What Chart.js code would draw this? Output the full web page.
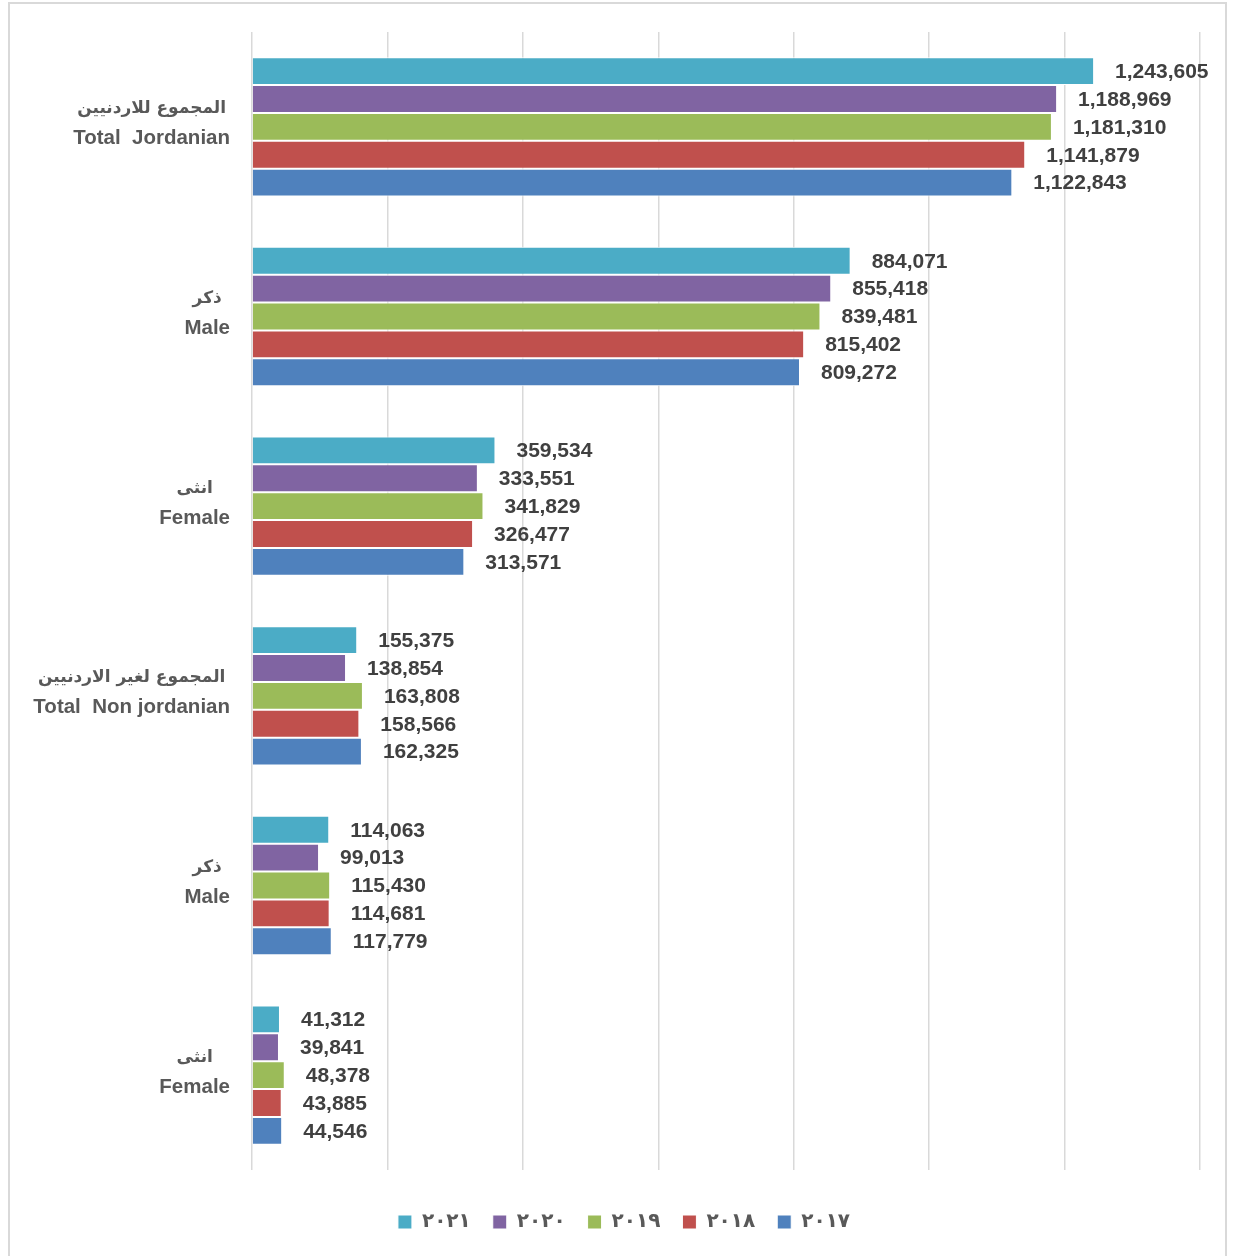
<!DOCTYPE html>
<html>
<head>
<meta charset="utf-8">
<script src="https://cdn.jsdelivr.net/npm/chart.js@4.4.1/dist/chart.umd.min.js"></script>
<style>
  html, body { margin: 0; padding: 0; background: #fff; }
  #frame { position: absolute; left: 8px; top: 2px; width: 1219px; height: 1260px; border: 2px solid #d9d9d9; box-sizing: border-box; }
  #chart { position: absolute; left: 0; top: 0; }
</style>
</head>
<body>
<div id="frame"></div>
<canvas id="chart" width="1234" height="1256"></canvas>
<script>
// categories: Arabic line over English line
const categories = [
  ["المجموع للاردنيين", "Total  Jordanian"],
  ["ذكر", "Male"],
  ["انثى", "Female"],
  ["المجموع لغير الاردنيين", "Total  Non jordanian"],
  ["ذكر", "Male"],
  ["انثى", "Female"]
];
const years = ["٢٠٢١", "٢٠٢٠", "٢٠١٩", "٢٠١٨", "٢٠١٧"];
const y2021 = [1243605, 884071, 359534, 155375, 114063, 41312];
const y2020 = [1188969, 855418, 333551, 138854, 99013, 39841];
const y2019 = [1181310, 839481, 341829, 163808, 115430, 48378];
const y2018 = [1141879, 815402, 326477, 158566, 114681, 43885];
const y2017 = [1122843, 809272, 313571, 162325, 117779, 44546];
const colors = ["#4BACC6", "#8064A2", "#9BBB59", "#C0504D", "#4F81BD"];

const series = [y2021, y2020, y2019, y2018, y2017];

const arFont = "bold 17px 'DejaVu Sans', sans-serif";
const enFont = "bold 20.5px 'Liberation Sans', Arial, sans-serif";

//draws the number at the end of every bar
const valueLabels = {
  id: "valueLabels",
  afterDatasetsDraw(chart) {
    const ctx = chart.ctx;
    ctx.save();
    ctx.font = "bold 21px 'Liberation Sans', Arial, sans-serif";
    ctx.fillStyle = "#404040";
    ctx.textAlign = "left";
    ctx.textBaseline = "middle";
    chart.data.datasets.forEach((ds, i) => {
      chart.getDatasetMeta(i).data.forEach((bar, j) => {
        ctx.fillText(ds.data[j].toLocaleString("en-US"), bar.x + 21, bar.y + 1);
      });
    });
    ctx.restore();
  }
};

//category labels: two lines centred on each other, block right aligned to the axis
const categoryLabels = {
  id: "categoryLabels",
  afterDraw(chart) {
    const ctx = chart.ctx;
    const yScale = chart.scales.y;
    const right = yScale.right - 22;
    ctx.save();
    ctx.fillStyle = "#595959";
    ctx.textAlign = "center";
    ctx.textBaseline = "middle";
    chart.data.labels.forEach((lines, i) => {
      const yc = yScale.getPixelForTick(i);
      ctx.font = arFont;
      const wA = ctx.measureText(lines[0]).width;
      ctx.font = enFont;
      const wE = ctx.measureText(lines[1]).width;
      const cx = right - Math.max(wA, wE) / 2;
      ctx.font = arFont;
      ctx.fillText(lines[0], cx, yc - 18);
      ctx.font = enFont;
      ctx.fillText(lines[1], cx, yc + 12);
    });
    ctx.restore();
  }
};

new Chart(document.getElementById("chart"), {
  type: "bar",
  plugins: [valueLabels, categoryLabels],
  data: {
    labels: categories,
    datasets: series.map((d, i) => ({
      label: years[i],
      data: d,
      backgroundColor: colors[i],
      borderColor: "#ffffff",
      borderWidth: 1,
      barPercentage: 1,
      categoryPercentage: 0.735
    }))
  },
  options: {
    indexAxis: "y",
    responsive: false,
    animation: false,
    layout: { padding: { top: 32, right: 34, bottom: 14, left: 48 } },
    scales: {
      x: {
        min: 0,
        max: 1400000,
        afterFit: (scale) => { scale.height += 20; },
        ticks: { display: false, stepSize: 200000 },
        grid: { color: "#d9d9d9", lineWidth: 1.5, drawTicks: false },
        border: { display: false }
      },
      y: {
        afterFit: (scale) => { scale.width = 204; },
        ticks: { display: false },
        grid: { display: false, drawTicks: false },
        border: { display: false }
      }
    },
    plugins: {
      tooltip: { enabled: false },
      legend: {
        position: "bottom",
        labels: {
          boxWidth: 14,
          boxHeight: 14,
          padding: 22,
          color: "#595959",
          font: { family: "'DejaVu Sans', sans-serif", size: 20, weight: "bold" }
        }
      }
    }
  }
});
</script>
</body>
</html>
